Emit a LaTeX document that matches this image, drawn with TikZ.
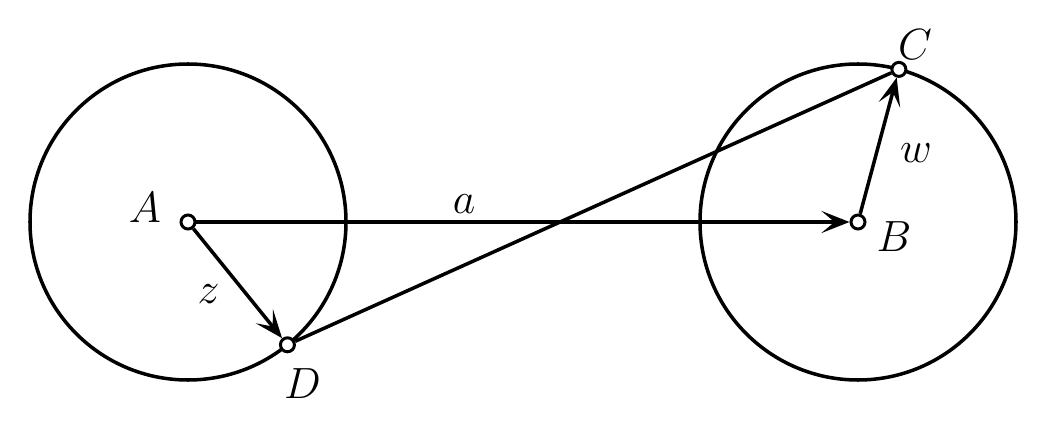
\documentclass[tikz,border=0pt]{standalone}
\usepackage{amsmath,amssymb}
\usepackage{tikz}
\usetikzlibrary{arrows.meta}

\begin{document}
\begin{tikzpicture}[
		pkt/.style={circle, draw, fill=white, line width=1.7pt, inner sep=0pt, minimum size=0.28cm},
		lbl/.style={font=\fontsize{30}{34}\selectfont},
		strz/.style={-{Stealth[length=0.56cm, width=0.44cm, inset=0.26cm]}}
	]
		\useasboundingbox (0,0) rectangle (20.86,8.48);

		% Okregi
		\coordinate (SA) at (3.76,4.04);
		\coordinate (SB) at (17.16,4.04);
		\draw[line width=2pt] (SA) circle (3.16);
		\draw[line width=2pt] (SB) circle (3.16);

		% Punkty
		\node[pkt] (A) at (SA) {};
		\node[pkt] (B) at (SB) {};
		\node[pkt] (D) at ([shift={(-51:3.16)}]SA) {};
		\node[pkt] (C) at ([shift={(75:3.16)}]SB) {};

		% Etykiety
		\node[lbl] (lA) at ([shift={(-0.86,0.28)}]A) {$A$};
		\node[lbl] (lB) at ([shift={(0.72,-0.3)}]B) {$B$};
		\node[lbl] (lC) at ([shift={(0.32,0.5)}]C) {$C$};
		\node[lbl] (lD) at ([shift={(0.3,-0.78)}]D) {$D$};

		% Strzalki
		\draw[strz, line width=2.8pt] (A) -- (B)
		node[lbl, pos=0.41, above=0pt] {$a$};
		\draw[strz, line width=2pt] (A) -- (D)
		node[lbl, midway, left=6pt, yshift=-6pt] {$z$};
		\draw[strz, line width=2pt] (B) -- (C)
		node[lbl, midway, right=8pt, yshift=-4pt] {$w$};
		\draw[line width=2pt] (D) -- (C);

	\end{tikzpicture}
\end{document}
